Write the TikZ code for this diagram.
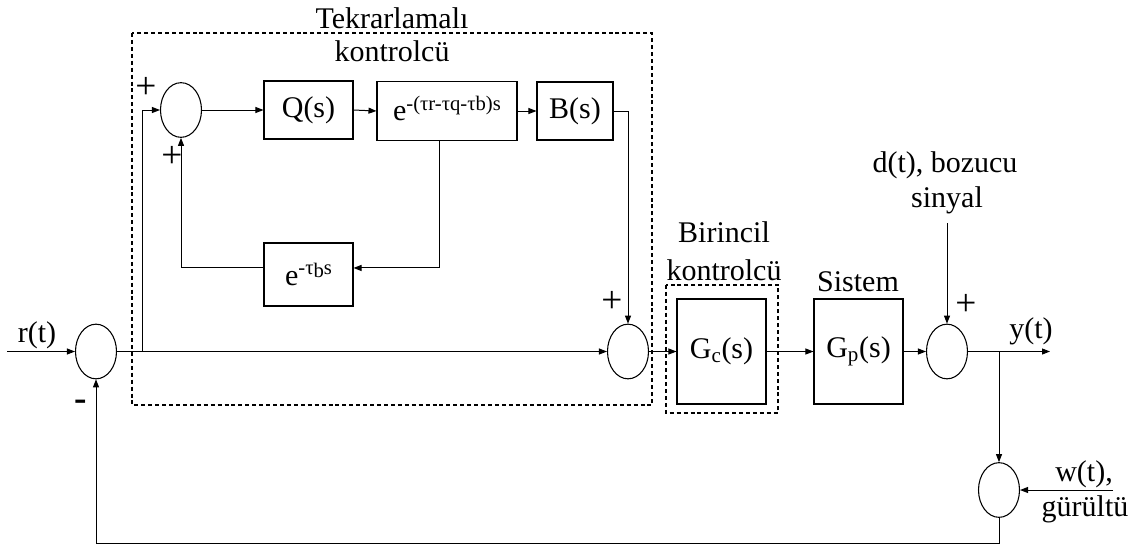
\documentclass[tikz,border=0pt]{standalone}
\usepackage{fontspec}
\setmainfont{Liberation Serif}
\usetikzlibrary{shapes.geometric,arrows.meta}
\begin{document}
\begin{tikzpicture}[x=0.75pt,y=-0.75pt,
  every node/.style={font=\fontsize{22.5}{26}\selectfont},
  sumnode/.style={draw,ellipse,line width=0.8pt,inner sep=0pt,minimum width=30.75pt,minimum height=41pt},
  block/.style={draw,line width=0.8pt,inner sep=0pt,minimum width=66.75pt,minimum height=43.5pt},
  grp/.style={draw,dashed,line width=0.8pt,dash pattern=on 3pt off 2.2pt},
  sig/.style={line width=0.75pt,-{Triangle[length=6pt,width=4.5pt]}},
  sign/.style={font=\fontsize{28}{30}\selectfont,inner sep=0pt},
  lbl/.style={inner sep=0pt}]
\useasboundingbox (0,0) rectangle (1139,550);

% grouping frames
\draw[grp] (132,33) rectangle (652,405);
\draw[grp] (666,285) rectangle (778,413);
\node[lbl] (t1) at (392,18) {Tekrarlamalı};
\node[lbl] (t2) at (392,51) {kontrolcü};
\node[lbl] (t3) at (724,232) {Birincil};
\node[lbl] (t4) at (724,270) {kontrolcü};
\node[lbl] (t5) at (858,282) {Sistem};

% summing junctions
\node[sumnode] (s0) at (96,351.5) {};
\node[sumnode] (s1) at (181,110) {};
\node[sumnode] (s2) at (628,351.5) {};
\node[sumnode] (s3) at (947,351.5) {};
\node[sumnode] (s4) at (999,490) {};

% blocks
\node[block] (Q) at (308.5,110) {Q(s)};
\node[block,minimum width=105pt,minimum height=44pt] (D) at (447,111)
  {e\raisebox{0.33em}{\fontsize{15.5}{17}\selectfont -(τr-τq-τb)s}\vphantom{Q}};
\node[block,minimum width=57pt] (B) at (575,111) {B(s)};
\node[block,minimum height=47.25pt] (E) at (308.5,274.5)
  {e\raisebox{0.38em}{\fontsize{15.5}{17}\selectfont -τ\raisebox{-0.15em}{b}s}};
\node[block,minimum height=78.75pt] (Gc) at (721.5,351.5) {G\textsubscript{c}(s)};
\node[block,minimum height=78.75pt] (Gp) at (858.5,351.5) {G\textsubscript{p}(s)};

% free ends
\coordinate (rin) at (7,351.5);
\coordinate (split) at (142,351.5);
\coordinate (din) at (947,223);
\coordinate (yout) at (1050,351.5);
\coordinate (ysplit) at (999,351.5);
\coordinate (win) at (1113,490);
\coordinate (fb) at (999,543);

% signal paths
\draw[sig] (rin) -- (s0.west);
\draw[sig] (s0.east) -- (s2.west);
\draw[sig] (split) |- (s1.west);
\draw[sig] (s1.east) -- (Q.west);
\draw[sig] (Q.east) -- (D.west);
\draw[sig] (D.east) -- (B.west);
\draw[sig] (B.east) -| (s2.north);
\draw[sig] ([xshift=-6pt]D.south) |- ([yshift=4.9pt]E.east);
\draw[sig] ([yshift=4.9pt]E.west) -| (s1.south);
\draw[sig] (s2.east) -- (Gc.west);
\draw[sig] (Gc.east) -- (Gp.west);
\draw[sig] (Gp.east) -- (s3.west);
\draw[sig] (din) -- (s3.north);
\draw[sig] (s3.east) -- (yout);
\draw[sig] (ysplit) -- (s4.north);
\draw[sig] (win) -- (s4.east);
\draw[sig] (s4.south) -- (fb) -| (s0.south);

% signs
\node[sign] (p1) at (146,88) {+};
\node[sign] (p2) at (172,157) {+};
\node[sign] (p3) at (612,302) {+};
\node[sign] (p4) at (966,305) {+};
\node[sign,font=\fontsize{28}{30}\selectfont\bfseries] (m1) at (81,405) {-};

% signal labels
\node[lbl] (r) at (37,335) {r(t)};
\node[lbl] (d1) at (945,165) {d(t), bozucu};
\node[lbl] (d2) at (947,200) {sinyal};
\node[lbl] (y) at (1031,331) {y(t)};
\node[lbl] (w1) at (1084,474) {w(t),};
\node[lbl] (w2) at (1085,509) {gürültü};
\end{tikzpicture}
\end{document}
